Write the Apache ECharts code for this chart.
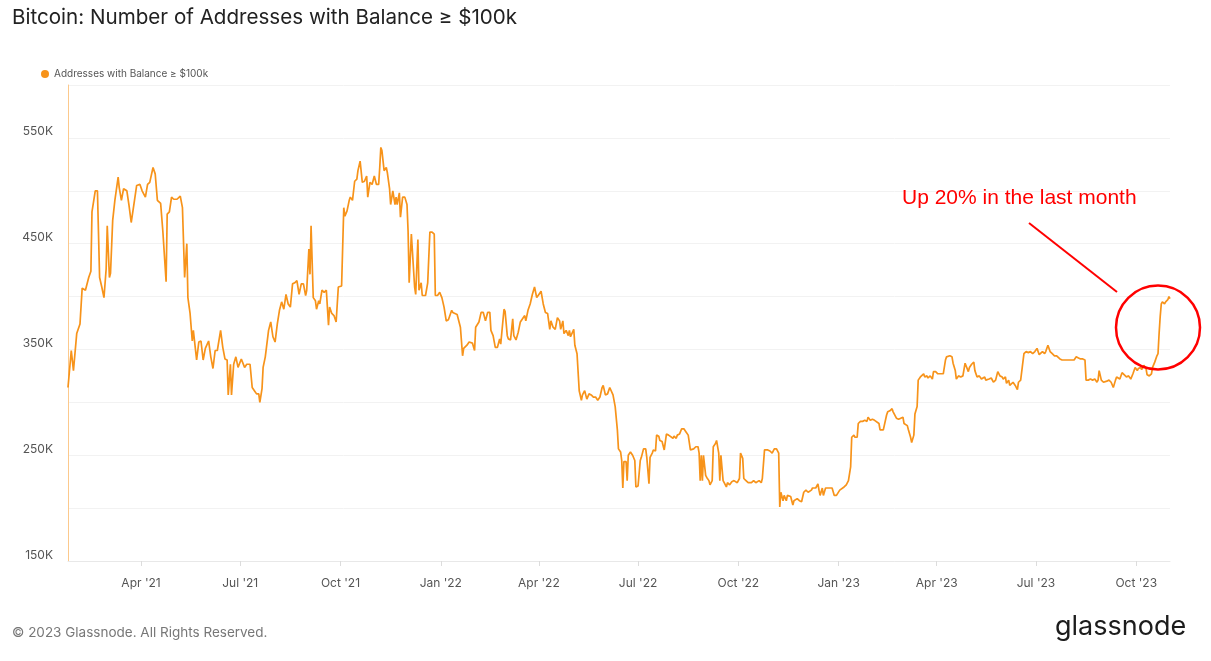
<!DOCTYPE html>
<html>
<head>
<meta charset="utf-8">
<title>Bitcoin: Number of Addresses with Balance ≥ $100k</title>
<script src="https://cdn.jsdelivr.net/npm/echarts@6.0.0/dist/echarts.min.js"></script>
<style>
  html, body { margin: 0; padding: 0; background: #fff; }
  #main { width: 1211px; height: 661px; }
</style>
</head>
<body>
<div id="main"></div>
<script>
"use strict";

// day offsets from 2021-01-01, values in thousands of addresses
var points2021 = [
  [23,314],[26,349],[28,330],[31,365],[34,374],[36,408],[39,406],[42,418],[44,424],[45,480],
  [48,500],[50,500],[52,418],[54,409],[56,399],[58,426],[59,467],[61,418],[62,422],[64,472],
  [66,491],[69,513],[70,503],[72,491],[74,502],[77,500],[79,486],[81,470],[84,491],[86,505],
  [89,506],[91,500],[94,494],[96,506],[98,508],[101,522],[103,516],[105,491],[108,488],[110,462],
  [113,414],[114,478],[116,480],[118,494],[120,492],[123,492],[126,495],[128,484],[130,418],[132,450],
  [133,399],[135,384],[137,358],[138,368],[141,340],[143,357],[145,358],[147,340],[149,351],[152,358],
  [154,343],[156,332],[158,349],[160,349],[163,368],[165,352],[167,341],[169,340],[170,307],[172,336],
  [173,307],[175,336],[177,343],[179,333],[182,341],[185,333],[187,336],[190,336],[192,314],[194,311],
  [196,308],[198,308],[199,300],[201,313],[202,333],[204,343],[207,368],[209,376],[211,362],[213,357],
  [215,374],[217,387],[219,395],[221,388],[223,402],[225,393],[227,390],[229,412],[231,413],[233,415],
  [235,402],[237,412],[239,412],[241,401],[242,406],[244,445],[245,421],[246,467],[247,467],[248,399],
  [250,396],[251,388],[253,396],[254,393],[256,406],[258,404],[260,406],[262,373],[263,390],[265,384],
  [267,382],[269,376],[271,409],[274,410],[276,484],[277,476],[279,481],[281,491],[282,494],[284,491],
  [286,509],[288,511],[289,519],[291,528],[293,508],[295,509],[297,514],[298,494],[300,508],[302,506],
  [304,514],[306,506],[308,506],[309,522],[310,541],[311,538],[313,519],[315,522],[316,517],[318,502],
  [319,487],[321,500],[323,487],[324,494],[325,487],[327,498],[328,475],[330,494],[332,494],[334,487],
  [335,462],[336,413],[338,459],[339,460],[341,409],[342,402],[344,454],[345,406],[347,413],[348,401],
  [349,401],[351,401],[353,413],[355,461],[357,461],[359,459],[360,401],[362,401],[364,404]
];

var points2022 = [
  [366,399],[368,390],[370,377],[372,378],[375,387],[376,385],[378,384],[380,383],[383,371],[385,344],
  [386,351],[389,354],[391,357],[394,356],[396,349],[397,371],[400,376],[402,385],[404,385],[406,377],
  [408,385],[410,385],[411,368],[413,363],[415,352],[417,352],[419,360],[420,355],[423,388],[424,386],
  [426,363],[427,360],[429,359],[431,379],[432,363],[434,359],[436,366],[438,376],[440,379],[442,382],
  [443,377],[445,387],[447,393],[449,402],[451,409],[453,399],[455,402],[457,405],[459,393],[461,385],
  [463,384],[465,369],[466,377],[468,371],[470,369],[472,380],[474,377],[475,369],[477,377],[478,365],
  [480,368],[482,363],[483,368],[484,362],[487,369],[488,354],[490,346],[492,311],[494,302],[495,307],
  [497,311],[499,303],[501,308],[503,307],[505,305],[507,305],[509,302],[511,305],[513,314],[514,316],
  [516,307],[518,308],[520,314],[521,313],[523,307],[525,296],[527,274],[528,256],[530,253],[531,245],
  [532,219],[533,244],[535,244],[536,226],[537,250],[539,253],[541,250],[543,245],[544,220],[546,221],
  [548,245],[549,248],[551,256],[553,256],[554,248],[556,223],[557,248],[559,252],[560,255],[562,254],
  [563,269],[565,268],[566,264],[568,263],[570,255],[572,270],[574,269],[575,268],[578,266],[579,268],
  [581,266],[582,269],[584,270],[586,275],[588,275],[590,272],[592,269],[594,255],[595,256],[597,256],
  [599,258],[601,258],[602,252],[603,226],[604,250],[605,226],[606,250],[608,231],[609,229],[611,226],
  [612,222],[614,226],[615,258],[617,261],[618,264],[620,252],[621,226],[622,250],[624,226],[625,224],
  [627,220],[628,224],[630,222],[632,225],[634,226],[637,224],[639,228],[640,252],[642,247],[643,228],
  [645,226],[647,224],[650,224],[652,226],[654,224],[657,226],[659,224],[660,228],[662,255],[663,254],
  [665,255],[667,254],[669,252],[671,256],[673,256],[675,252],[676,201],[677,215],[679,207],[680,212],
  [682,207],[683,212],[686,211],[688,203],[689,207],[692,209],[694,207],[696,206],[698,215],[700,217],
  [702,215],[705,217],[706,219],[709,219],[711,223],[712,217],[713,212],[715,219],[716,212],[718,219],
  [720,219],[722,219],[724,219],[726,212],[728,212]
];

var points2023 = [
  [731,217],[732,218],[735,220],[737,222],[739,226],[741,239],[742,267],[744,269],[745,267],[747,267],
  [748,280],[750,282],[752,282],[754,283],[756,282],[757,286],[759,283],[761,284],[763,283],[764,283],
  [767,280],[768,274],[771,274],[772,275],[774,288],[775,291],[777,292],[779,294],[780,291],[783,285],
  [785,284],[787,285],[789,286],[790,280],[793,278],[794,274],[796,267],[797,262],[799,269],[800,289],
  [802,296],[803,321],[805,324],[806,323],[808,327],[809,324],[811,325],[812,323],[814,325],[816,322],
  [817,329],[819,329],[821,327],[823,327],[826,327],[828,340],[829,343],[832,344],[834,343],[835,337],
  [837,330],[838,322],[840,325],[842,324],[844,325],[846,337],[847,336],[849,329],[850,333],[852,336],
  [854,338],[855,330],[857,324],[859,325],[861,322],[864,324],[865,321],[868,322],[870,323],[872,319],
  [874,321],[876,329],[878,325],[880,324],[881,322],[883,324],[884,318],[886,321],[887,316],[890,319],
  [892,316],[894,312],[895,319],[897,321],[898,322],[900,346],[902,348],[904,347],[906,348],[908,346],
  [910,348],[912,351],[914,345],[917,348],[919,346],[920,348],[922,354],[924,348],[926,346],[928,344],
  [930,344],[933,341],[935,340],[937,340],[939,340],[942,340],[944,340],[946,340],[948,343],[950,342],
  [952,341],[954,341],[956,340],[957,321],[959,321],[961,322],[963,321],[965,322],[967,319],[968,321],
  [969,330],[971,321],[973,319],[976,320],[978,321],[980,319],[982,314],[984,321],[985,324],[988,322],
  [990,328],[991,327],[994,324],[996,325],[998,322],[1000,327],[1002,333],[1004,330],[1005,332],[1007,333],
  [1008,331],[1010,335],[1012,332],[1013,326],[1015,325],[1017,327],[1018,333],[1020,338],[1022,344],[1023,346],
  [1024,365],[1025,381],[1026,393],[1027,395],[1029,393],[1030,395],[1032,397],[1033,400],[1034,398]
];

var tickDates = ["2021-04-01", "2021-07-01", "2021-10-01", "2022-01-01", "2022-04-01", "2022-07-01",
  "2022-10-01", "2023-01-01", "2023-04-01", "2023-07-01", "2023-10-01"];
var tickLabels = ["Apr '21", "Jul '21", "Oct '21", "Jan '22", "Apr '22", "Jul '22",
  "Oct '22", "Jan '23", "Apr '23", "Jul '23", "Oct '23"];

var BASE = Date.UTC(2021, 0, 1);
var DAY = 86400000;

var seriesData = points2021.concat(points2022, points2023).map(function (p) {
  return [p[0], p[1] * 1000];
});
// tick positions as day offsets from BASE
var tickDays = tickDates.map(function (d) {
  return Math.round((Date.parse(d + "T00:00:00Z") - BASE) / DAY);
});

var chartDom = document.getElementById("main");
var myChart = echarts.init(chartDom);
var option;

option = {
  backgroundColor: "#fff",
  animation: false,
  title: {
    text: "Bitcoin: Number of Addresses with Balance ≥ $100k",
    left: 7,
    top: 2,
    textStyle: {
      fontFamily: "Inter",
      fontSize: 20.6,
      fontWeight: "normal",
      color: "#222",
    },
  },
  legend: {
    left: 36,
    top: 64,
    icon: "circle",
    itemWidth: 8,
    itemHeight: 8,
    itemGap: 5,
    textStyle: {
      fontFamily: "Inter",
      fontSize: 10,
      color: "#555",
    },
  },
  grid: {
    left: 68,
    right: 41,
    top: 85,
    bottom: 100,
  },
  xAxis: {
    type: "value",
    min: seriesData[0][0],
    max: seriesData[seriesData.length - 1][0],
    axisLine: { lineStyle: { color: "#e8e8e8" } },
    axisTick: {
      show: true,
      customValues: tickDays,
      length: 5,
      lineStyle: { color: "#dcdcdc" },
    },
    axisLabel: {
      customValues: tickDays,
      margin: 16,
      fontFamily: "Inter",
      fontSize: 12,
      color: "#555",
      formatter: function (val) {
        var i = tickDays.indexOf(val);
        return i >= 0 ? tickLabels[i] : "";
      },
    },
    splitLine: { show: false },
  },
  yAxis: {
    type: "value",
    min: 150000,
    max: 600000,
    interval: 50000,
    axisLine: { show: true, lineStyle: { color: "#fcc98c", width: 1 } },
    axisTick: { show: false },
    axisLabel: {
      margin: 15,
      fontFamily: "Inter",
      fontSize: 12,
      color: "#555",
      verticalAlign: "bottom",
      formatter: function (v) {
        return (v / 1000) % 100 === 50 ? v / 1000 + "K" : "";
      },
    },
    splitLine: { lineStyle: { color: "#f2f2f2" } },
  },
  series: [
    {
      name: "Addresses with Balance ≥ $100k",
      type: "line",
      data: seriesData,
      showSymbol: false,
      symbol: "circle",
      itemStyle: { color: "#f7931a" },
      lineStyle: { color: "#f7931a", width: 1.7 },
    },
  ],
  graphic: [
    {
      type: "text",
      left: 902,
      top: 188,
      z: 100,
      style: {
        text: "Up 20% in the last month",
        fill: "#ff0000",
        font: "21px 'Liberation Sans'",
      },
    },
    {
      type: "line",
      z: 100,
      shape: { x1: 1029, y1: 223, x2: 1117, y2: 292 },
      style: { stroke: "#ff0000", lineWidth: 2 },
    },
    {
      type: "circle",
      z: 100,
      shape: { cx: 1158, cy: 327.5, r: 42 },
      style: { fill: null, stroke: "#ff0000", lineWidth: 2.5 },
    },
    {
      type: "text",
      left: 12,
      top: 626,
      style: {
        text: "© 2023 Glassnode. All Rights Reserved.",
        fill: "#777",
        font: "13.5px Inter",
      },
    },
    {
      type: "text",
      left: 1055,
      top: 613,
      style: {
        text: "glassnode",
        fill: "#1c1c1c",
        font: "27px Inter",
      },
    },
  ],
};

option && myChart.setOption(option);
</script>
</body>
</html>
